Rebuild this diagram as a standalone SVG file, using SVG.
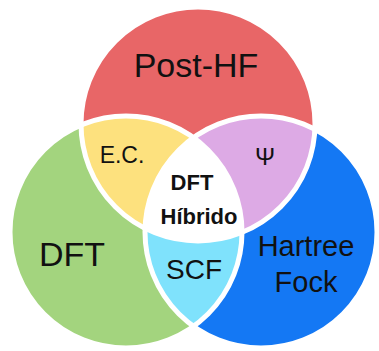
<svg xmlns="http://www.w3.org/2000/svg" width="379" height="351" viewBox="0 0 379 351">
  <style>
    .lbl { font-family: "Liberation Sans", Arial, sans-serif; fill: #111; text-anchor: middle; }
    .bold { font-weight: bold; }
    .edge { fill: none; stroke: #fff; stroke-width: 5; }
  </style>
  <defs>
    <circle id="cirR" cx="198" cy="124" r="117"/>
    <circle id="cirG" cx="126" cy="232" r="116"/>
    <circle id="cirB" cx="261" cy="232" r="116"/>
    <clipPath id="clipR"><use href="#cirR"/></clipPath>
    <clipPath id="clipG"><use href="#cirG"/></clipPath>
    <clipPath id="clipRG"><circle cx="126" cy="232" r="116" clip-path="url(#clipR)"/></clipPath>
  </defs>

  <rect width="379" height="351" fill="#fff"/>

  <!-- single-set regions -->
  <g id="post-hf">
    <use href="#cirR" fill="#E86667"/>
    <text class="lbl" x="196" y="77" font-size="34">Post-HF</text>
  </g>
  <g id="dft">
    <use href="#cirG" fill="#A3D47E"/>
    <text class="lbl" x="72" y="266" font-size="34">DFT</text>
  </g>
  <g id="hartree-fock">
    <use href="#cirB" fill="#1478F4"/>
    <text class="lbl" x="306" y="256" font-size="29">Hartree</text>
    <text class="lbl" x="306" y="292" font-size="29">Fock</text>
  </g>

  <!-- pairwise overlaps -->
  <g id="ec">
    <use href="#cirG" fill="#FDE17E" clip-path="url(#clipR)"/>
    <text class="lbl" x="122" y="163" font-size="23">E.C.</text>
  </g>
  <g id="psi">
    <use href="#cirB" fill="#DDAAE5" clip-path="url(#clipR)"/>
    <text class="lbl" x="265" y="165" font-size="24">Ψ</text>
  </g>
  <g id="scf">
    <use href="#cirB" fill="#7FE2FC" clip-path="url(#clipG)"/>
    <text class="lbl" x="194" y="279" font-size="28">SCF</text>
  </g>

  <!-- triple overlap -->
  <g id="dft-hibrido">
    <use href="#cirB" fill="#fff" clip-path="url(#clipRG)"/>
    <text class="lbl bold" x="192" y="190" font-size="22">DFT</text>
    <text class="lbl bold" x="199" y="224" font-size="22">Híbrido</text>
  </g>

  <!-- white separators along every circle outline -->
  <g id="borders">
    <use href="#cirR" class="edge"/>
    <use href="#cirG" class="edge"/>
    <use href="#cirB" class="edge"/>
  </g>
</svg>
